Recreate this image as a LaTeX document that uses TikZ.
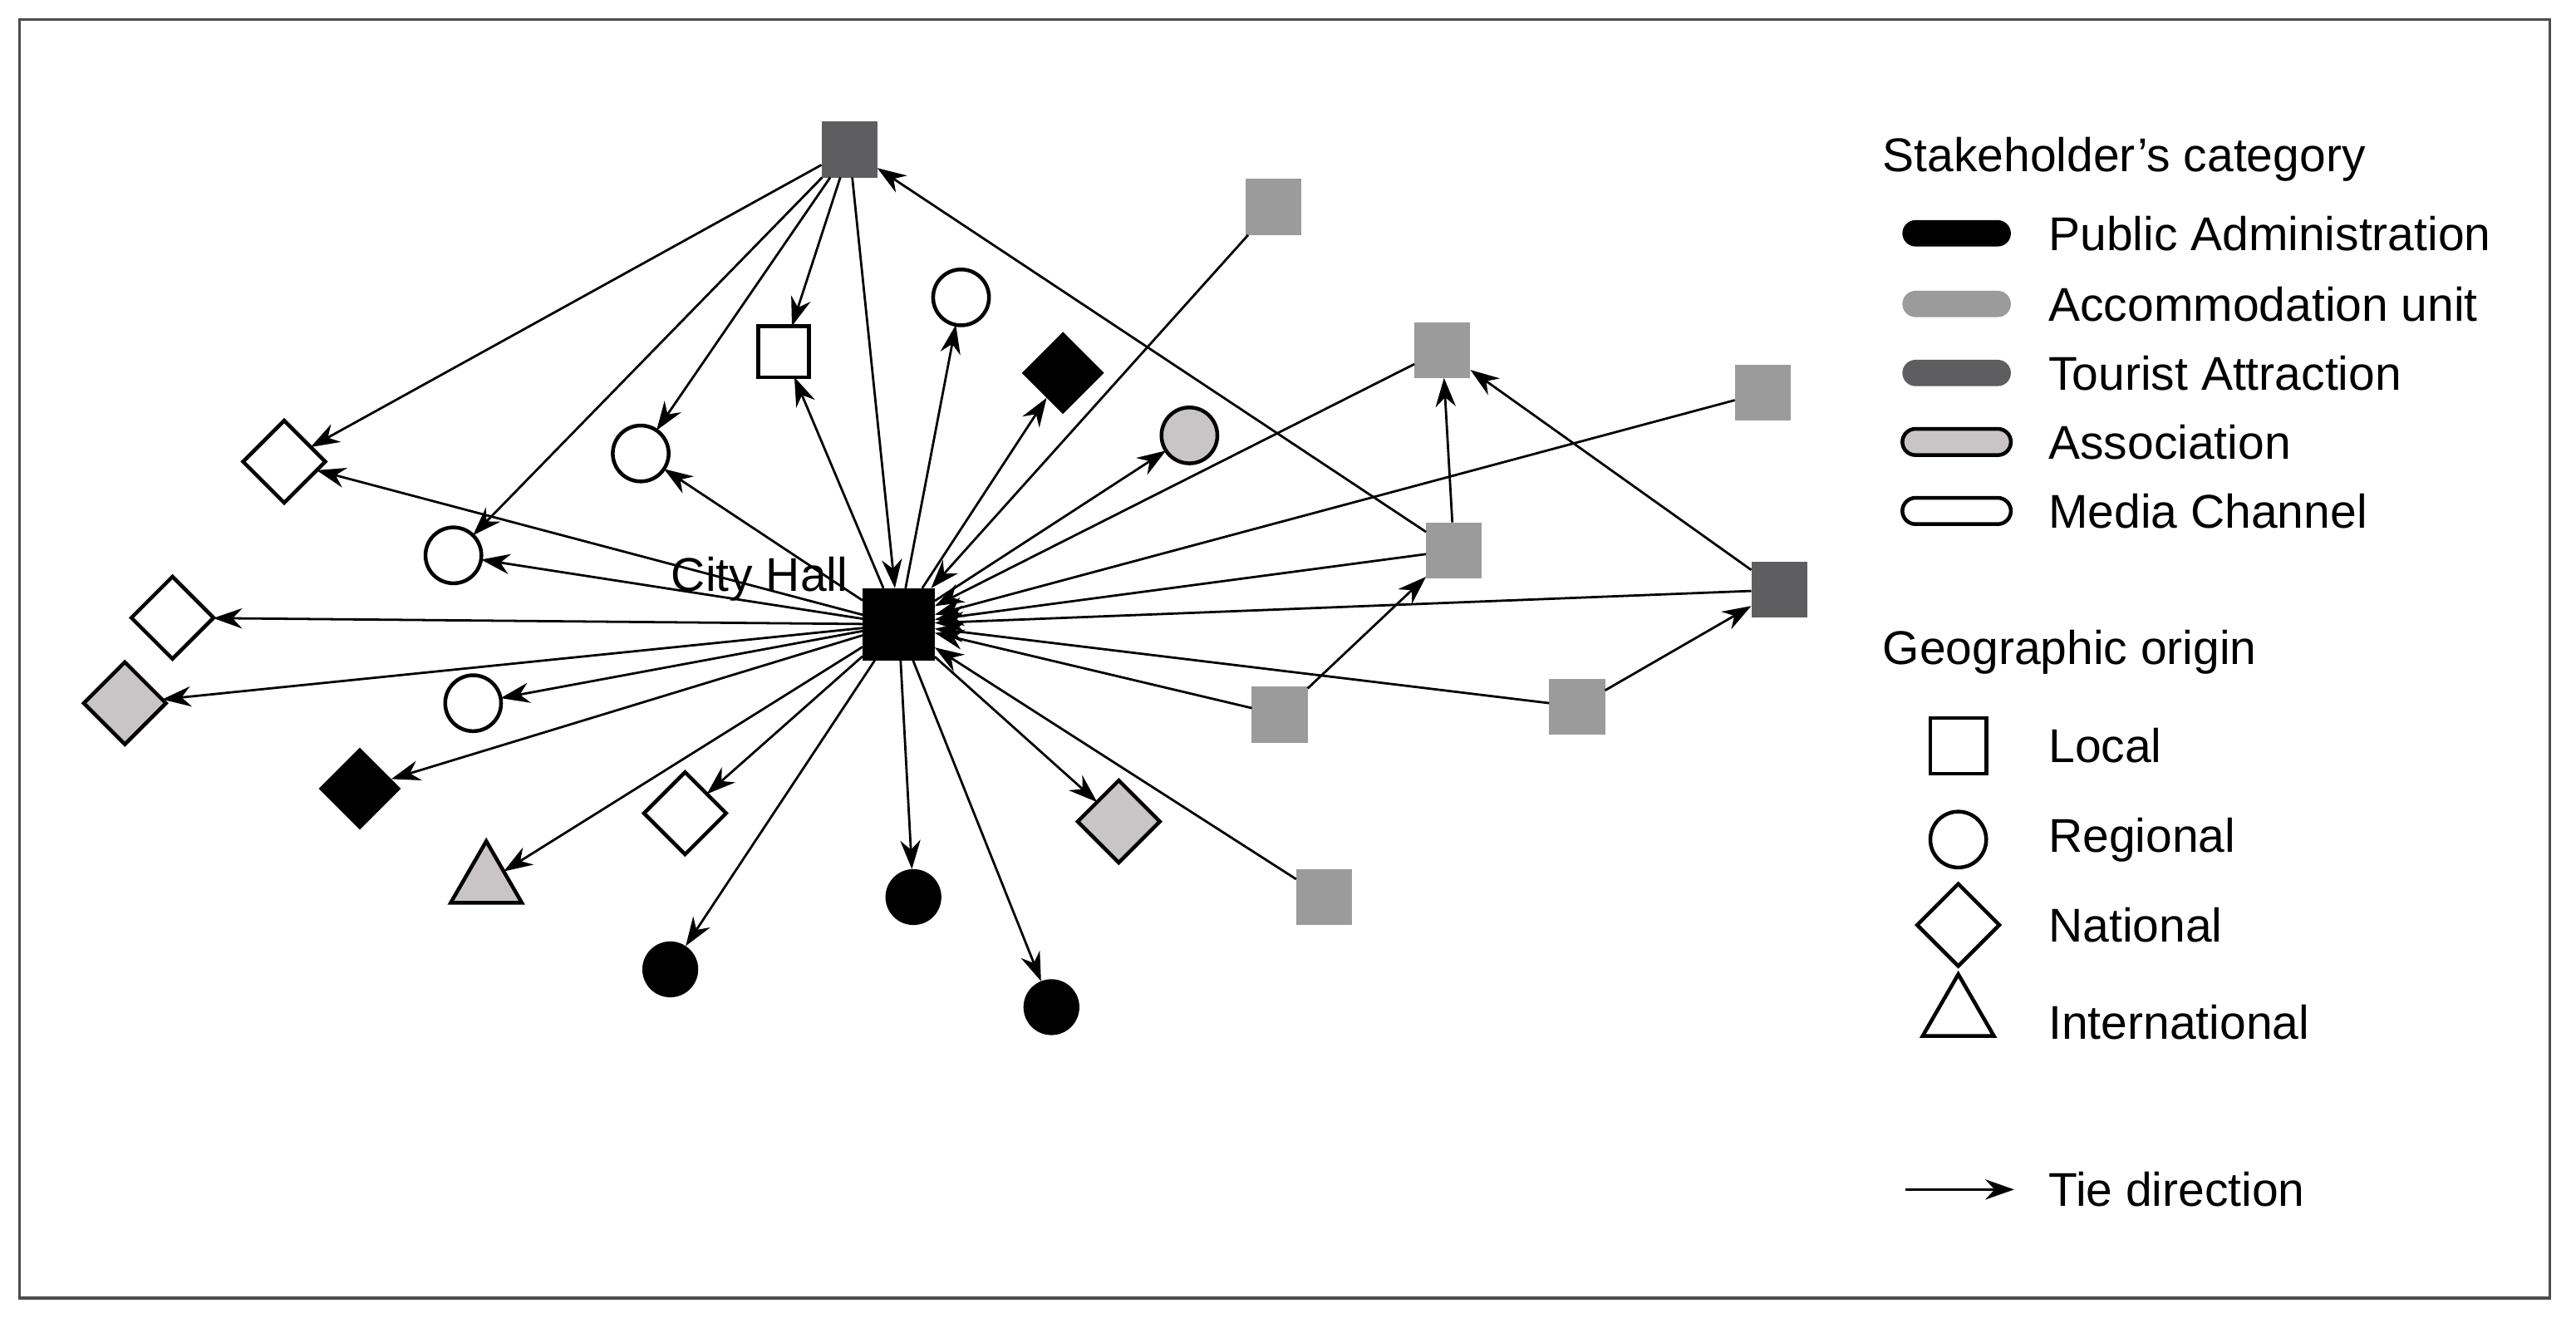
\documentclass[tikz,border=0pt]{standalone}
\usepackage{fontspec}
\setmainfont{Liberation Sans}
\usetikzlibrary{shapes.geometric,arrows.meta}
\definecolor{acc}{HTML}{9B9B9B}
\definecolor{tour}{HTML}{5E5E60}
\definecolor{asso}{HTML}{C9C4C5}
\begin{document}
\begin{tikzpicture}[x=0.01cm,y=-0.01cm,
  every node/.style={inner sep=0pt,outer sep=0pt},
  sq/.style={rectangle,minimum size=0.34cm},
  ci/.style={circle,minimum size=0.34cm},
  di/.style={diamond,minimum size=0.5cm},
  tr/.style={regular polygon,regular polygon sides=3,minimum size=0.5cm},
  ln/.style={draw=black,line width=0.65pt},
  e/.style={-{Stealth[length=5pt,width=3.5pt]},line width=0.4pt},
  lab/.style={font=\fontsize{8.2}{10}\selectfont,anchor=west},
  pill/.style={rounded corners=0.08cm,minimum width=0.66cm,minimum height=0.16cm}]
\useasboundingbox (0,0) rectangle (1568,802);
\draw[line width=0.5pt,black!70] (12,12) rectangle (1552,790);
% nodes
\node[sq,fill=black,minimum size=0.44cm] (CH) at (547,380) {};
\node[lab,anchor=south east] (chl) at (516,366) {City Hall};
\node[sq,fill=tour] (T1) at (517,91) {};
\node[sq,fill=acc] (A1) at (775,126) {};
\node[ci,ln,fill=white] (M1) at (585,181) {};
\node[sq,ln,fill=white,minimum size=0.31cm] (L1) at (477,214) {};
\node[di,fill=black] (P1) at (647,227) {};
\node[ci,ln,fill=asso] (S1) at (724,265) {};
\node[sq,fill=acc] (A2) at (878,213) {};
\node[sq,fill=acc] (A3) at (1073,239) {};
\node[sq,fill=acc] (A4) at (885,335) {};
\node[sq,fill=tour] (T2) at (1083,359) {};
\node[sq,fill=acc] (A5) at (779,435) {};
\node[sq,fill=acc] (A6) at (960,430) {};
\node[sq,fill=acc] (A7) at (806,546) {};
\node[di,ln,fill=white] (D1) at (173,281) {};
\node[ci,ln,fill=white] (C1) at (390,276) {};
\node[ci,ln,fill=white] (C2) at (276,338) {};
\node[di,ln,fill=white] (D2) at (105,376) {};
\node[di,ln,fill=asso] (D3) at (76,428) {};
\node[ci,ln,fill=white] (C3) at (288,428) {};
\node[di,fill=black] (D4) at (219,480) {};
\node[di,ln,fill=white] (D5) at (417,495) {};
\node[tr,ln,fill=asso] (TR) at (296,537) {};
\node[di,ln,fill=asso] (D6) at (681,500) {};
\node[ci,fill=black] (B1) at (556,546) {};
\node[ci,fill=black] (B2) at (408,590) {};
\node[ci,fill=black] (B3) at (640,613) {};
% edges
\foreach \t in {D1,C2,C1,L1,CH} \draw[e] (T1) -- (\t);
\foreach \t in {L1,M1,P1,S1,C1,D1,C2,D2,D3,C3,D4,D5,TR,B1,B2,B3,D6} \draw[e] (CH) -- (\t);
\foreach \s in {A1,A2,A3,A4,T2,A5,A6,A7} \draw[e] (\s) -- (CH);
\draw[e] (A4) -- (T1);
\draw[e] (A4) -- (A2);
\draw[e] (T2) -- (A2);
\draw[e] (A5) -- (A4);
\draw[e] (A6) -- (T2);
% legend
\node[lab] (h1) at (1146,97) {Stakeholder’s category};
\node[pill,fill=black] (p1) at (1191,142) {};
\node[pill,fill=acc] (p2) at (1191,185) {};
\node[pill,fill=tour] (p3) at (1191,227) {};
\node[pill,fill=asso,draw=black,line width=0.65pt] (p4) at (1191,269) {};
\node[pill,fill=white,draw=black,line width=0.65pt] (p5) at (1191,311) {};
\node[lab] (l1) at (1247,142) {Public Administration};
\node[lab] (l2) at (1247,185) {Accommodation unit};
\node[lab] (l3) at (1247,227) {Tourist Attraction};
\node[lab] (l4) at (1247,269) {Association};
\node[lab] (l5) at (1247,311) {Media Channel};
\node[lab] (h2) at (1146,397) {Geographic origin};
\node[sq,ln,minimum size=0.34cm] (g1) at (1192,454) {};
\node[ci,ln] (g2) at (1192,511) {};
\node[di,ln] (g3) at (1192,563) {};
\node[tr,ln] (g4) at (1192,618) {};
\node[lab] (k1) at (1247,454) {Local};
\node[lab] (k2) at (1247,511) {Regional};
\node[lab] (k3) at (1247,563) {National};
\node[lab] (k4) at (1247,622) {International};
\coordinate (ta) at (1160,724);
\coordinate (tb) at (1226,724);
\draw[e] (ta) -- (tb);
\node[lab] (k5) at (1247,724) {Tie direction};
\end{tikzpicture}
\end{document}
